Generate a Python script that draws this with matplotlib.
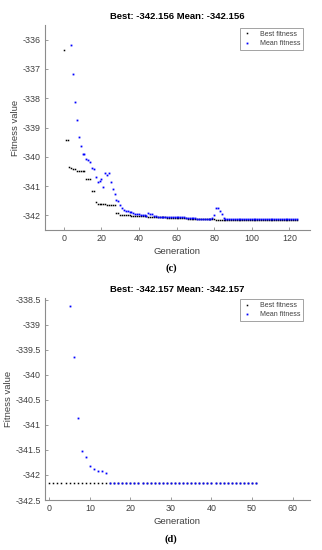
import matplotlib
matplotlib.use("Agg")
import matplotlib.pyplot as plt

# ---------------- data (c) ----------------
c_title = "Best: -342.156 Mean: -342.156"
c_best_gen = list(range(0, 125))
c_best = [
    -336.34, -339.43, -339.43, -340.35, -340.38, -340.41, -340.43, -340.50, -340.50, -340.50,
    -340.50, -340.50, -340.77, -340.77, -340.77, -341.17, -341.17, -341.53, -341.60, -341.60,
    -341.60, -341.60, -341.60, -341.64, -341.64, -341.64, -341.64, -341.64, -341.91, -341.91,
    -341.99, -341.99, -341.99, -341.99, -341.99, -341.99, -342.03, -342.03, -342.03, -342.03,
    -342.03, -342.03, -342.03, -342.03, -342.03, -342.06, -342.06, -342.06, -342.06, -342.06,
    -342.06, -342.06, -342.06, -342.06, -342.06, -342.08, -342.08, -342.08, -342.08, -342.08,
    -342.08, -342.08, -342.08, -342.08, -342.08, -342.08, -342.12, -342.12, -342.12, -342.12,
    -342.12, -342.12, -342.12, -342.12, -342.12, -342.12, -342.12, -342.12, -342.12, -342.12,
    -342.12, -342.15, -342.15, -342.15, -342.15, -342.15, -342.15, -342.15, -342.15, -342.15,
    -342.15, -342.15, -342.15, -342.15, -342.15, -342.15, -342.15, -342.15, -342.15, -342.15,
    -342.15, -342.15, -342.15, -342.15, -342.15, -342.15, -342.15, -342.15, -342.15, -342.15,
    -342.15, -342.15, -342.15, -342.15, -342.15, -342.15, -342.15, -342.15, -342.15, -342.15,
    -342.15, -342.15, -342.15, -342.15, -342.15,
]
c_mean_gen = list(range(4, 125))
c_mean = [
    -336.19, -337.16, -338.12, -338.76, -339.32, -339.64,
    -339.89, -339.92, -340.07, -340.12, -340.17, -340.37, -340.40, -340.69, -340.85, -340.84,
    -340.77, -341.04, -340.55, -340.62, -340.55, -340.85, -341.09, -341.26, -341.48, -341.50,
    -341.66, -341.74, -341.80, -341.85, -341.86, -341.88, -341.90, -341.92, -341.94, -341.95,
    -341.96, -341.98, -341.99, -342.00, -342.01, -341.93, -341.94, -341.95, -342.02, -342.03,
    -342.04, -342.04, -342.05, -342.05, -342.06, -342.06, -342.06, -342.05, -342.05, -342.04,
    -342.04, -342.05, -342.06, -342.07, -342.07, -342.08, -342.09, -342.09, -342.10, -342.10,
    -342.10, -342.11, -342.11, -342.11, -342.12, -342.12, -342.12, -342.12, -342.11, -342.08,
    -342.00, -341.74, -341.74, -341.86, -341.97, -342.08, -342.13, -342.14, -342.14, -342.14,
    -342.14, -342.14, -342.14, -342.14, -342.14, -342.14, -342.14, -342.14, -342.14, -342.14,
    -342.14, -342.14, -342.14, -342.14, -342.14, -342.14, -342.14, -342.14, -342.14, -342.14,
    -342.12, -342.12, -342.12, -342.12, -342.14, -342.14, -342.14, -342.14, -342.14, -342.14,
    -342.14, -342.14, -342.14, -342.14, -342.14,
]
c_yticks = [-336, -337, -338, -339, -340, -341, -342]
c_xticks = [0, 20, 40, 60, 80, 100, 120]

# ---------------- data (d) ----------------
d_title = "Best: -342.157 Mean: -342.157"
d_best_gen = list(range(0, 52))
d_best = [-342.157] * 52
d_mean_gen = list(range(5, 52))
d_mean = [-338.62, -339.65, -340.86, -341.53, -341.65, -341.82, -341.88, -341.92, -341.92, -341.97] + [-342.157] * 37
d_yticks = [-338.5, -339, -339.5, -340, -340.5, -341, -341.5, -342, -342.5]
d_xticks = [0, 10, 20, 30, 40, 50, 60]

plt.rcParams['font.family'] = ['Liberation Sans', 'DejaVu Sans']

W, H = 322, 550
fig = plt.figure(figsize=(W / 100, H / 100), dpi=100)

axcol = '#8c8c8c'
txtcol = '#404040'


def frac(x0, y0, x1, y1):
    return [x0 / W, 1 - y1 / H, (x1 - x0) / W, (y1 - y0) / H]


def style(ax, title, xticks, yticks, xlim, ylim, leg_y):
    ax.set_xlim(*xlim)
    ax.set_ylim(*ylim)
    ax.set_xticks(xticks)
    ax.set_yticks(yticks)
    ax.set_yticklabels([f"{v:g}" for v in yticks])
    for s in ['top', 'right']:
        ax.spines[s].set_visible(False)
    for s in ['left', 'bottom']:
        ax.spines[s].set_color(axcol)
        ax.spines[s].set_linewidth(0.8)
    ax.tick_params(direction='in', length=2.5, width=0.6, color=axcol,
                   labelsize=6.4, labelcolor=txtcol, pad=3)
    ax.set_title(title, fontsize=6.8, fontweight='bold', pad=4)
    ax.set_xlabel('Generation', fontsize=6.8, color=txtcol, labelpad=3)
    ax.set_ylabel('Fitness value', fontsize=6.8, color=txtcol, labelpad=2)
    leg = ax.legend(loc='upper right', bbox_to_anchor=(0.974, leg_y),
                    borderaxespad=0, fontsize=5, frameon=True, fancybox=False,
                    handlelength=1.2, handletextpad=1.2, borderpad=0.4,
                    labelspacing=0.3, markerscale=1.0)
    leg.get_frame().set_edgecolor(axcol)
    leg.get_frame().set_linewidth(0.7)
    for t in leg.get_texts():
        t.set_color(txtcol)


ax1 = fig.add_axes(frac(45, 25, 310, 230))
ax1.plot(c_best_gen, c_best, linestyle='none', marker='s', markersize=1.1,
         color='black', markeredgewidth=0, label='Best fitness')
ax1.plot(c_mean_gen, c_mean, linestyle='none', marker='s', markersize=1.3,
         color='#0000ff', markeredgewidth=0, label='Mean fitness')
style(ax1, c_title, c_xticks, c_yticks, (-10, 131), (-342.5, -335.5), 0.985)

ax2 = fig.add_axes(frac(45, 298, 310, 500))
ax2.plot(d_best_gen, d_best, linestyle='none', marker='s', markersize=1.1,
         color='black', markeredgewidth=0, label='Best fitness')
ax2.plot(d_mean_gen, d_mean, linestyle='none', marker='s', markersize=1.3,
         color='#0000ff', markeredgewidth=0, label='Mean fitness')
style(ax2, d_title, d_xticks, d_yticks, (-1.06, 64.3), (-342.5, -338.47), 0.994)

fig.text(171 / W, 1 - 268 / H, '(c)', ha='center', va='center',
         fontsize=7.6, family=['Liberation Serif', 'DejaVu Serif'], fontweight='bold')
fig.text(171 / W, 1 - 539 / H, '(d)', ha='center', va='center',
         fontsize=7.6, family=['Liberation Serif', 'DejaVu Serif'], fontweight='bold')

fig.savefig('out.png', dpi=100)
